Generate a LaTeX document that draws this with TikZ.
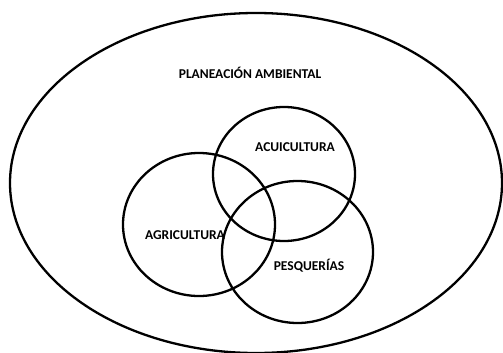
\documentclass[tikz,border=0pt]{standalone}
\usepackage{fontspec}
\setmainfont{Carlito}
\usepackage{tikz}
\usetikzlibrary{shapes.geometric,positioning}

\begin{document}
\begin{tikzpicture}[x=1pt, y=-1pt, line width=2.3pt]
   \useasboundingbox (0,0) rectangle (503,353);
   % conjuntos
   \draw (256,183) ellipse [x radius=246, y radius=170];
   \draw (284,174) ellipse [x radius=71, y radius=67];
   \draw (199,224.5) ellipse [x radius=76, y radius=71.5];
   \draw (297.5,252) ellipse [x radius=75.5, y radius=71];
   \begin{scope}[every node/.style={font=\bfseries\fontsize{13.5}{15}\selectfont, inner sep=0pt}]
    \node (plan) at (250,73) {PLANEACIÓN AMBIENTAL};
    \node (acui) at (295,147) {ACUICULTURA};
    \node (agri) at (185,235) {AGRICULTURA};
    \node (pesq) at (309,266) {PESQUERÍAS};
   \end{scope}
\end{tikzpicture}
\end{document}
